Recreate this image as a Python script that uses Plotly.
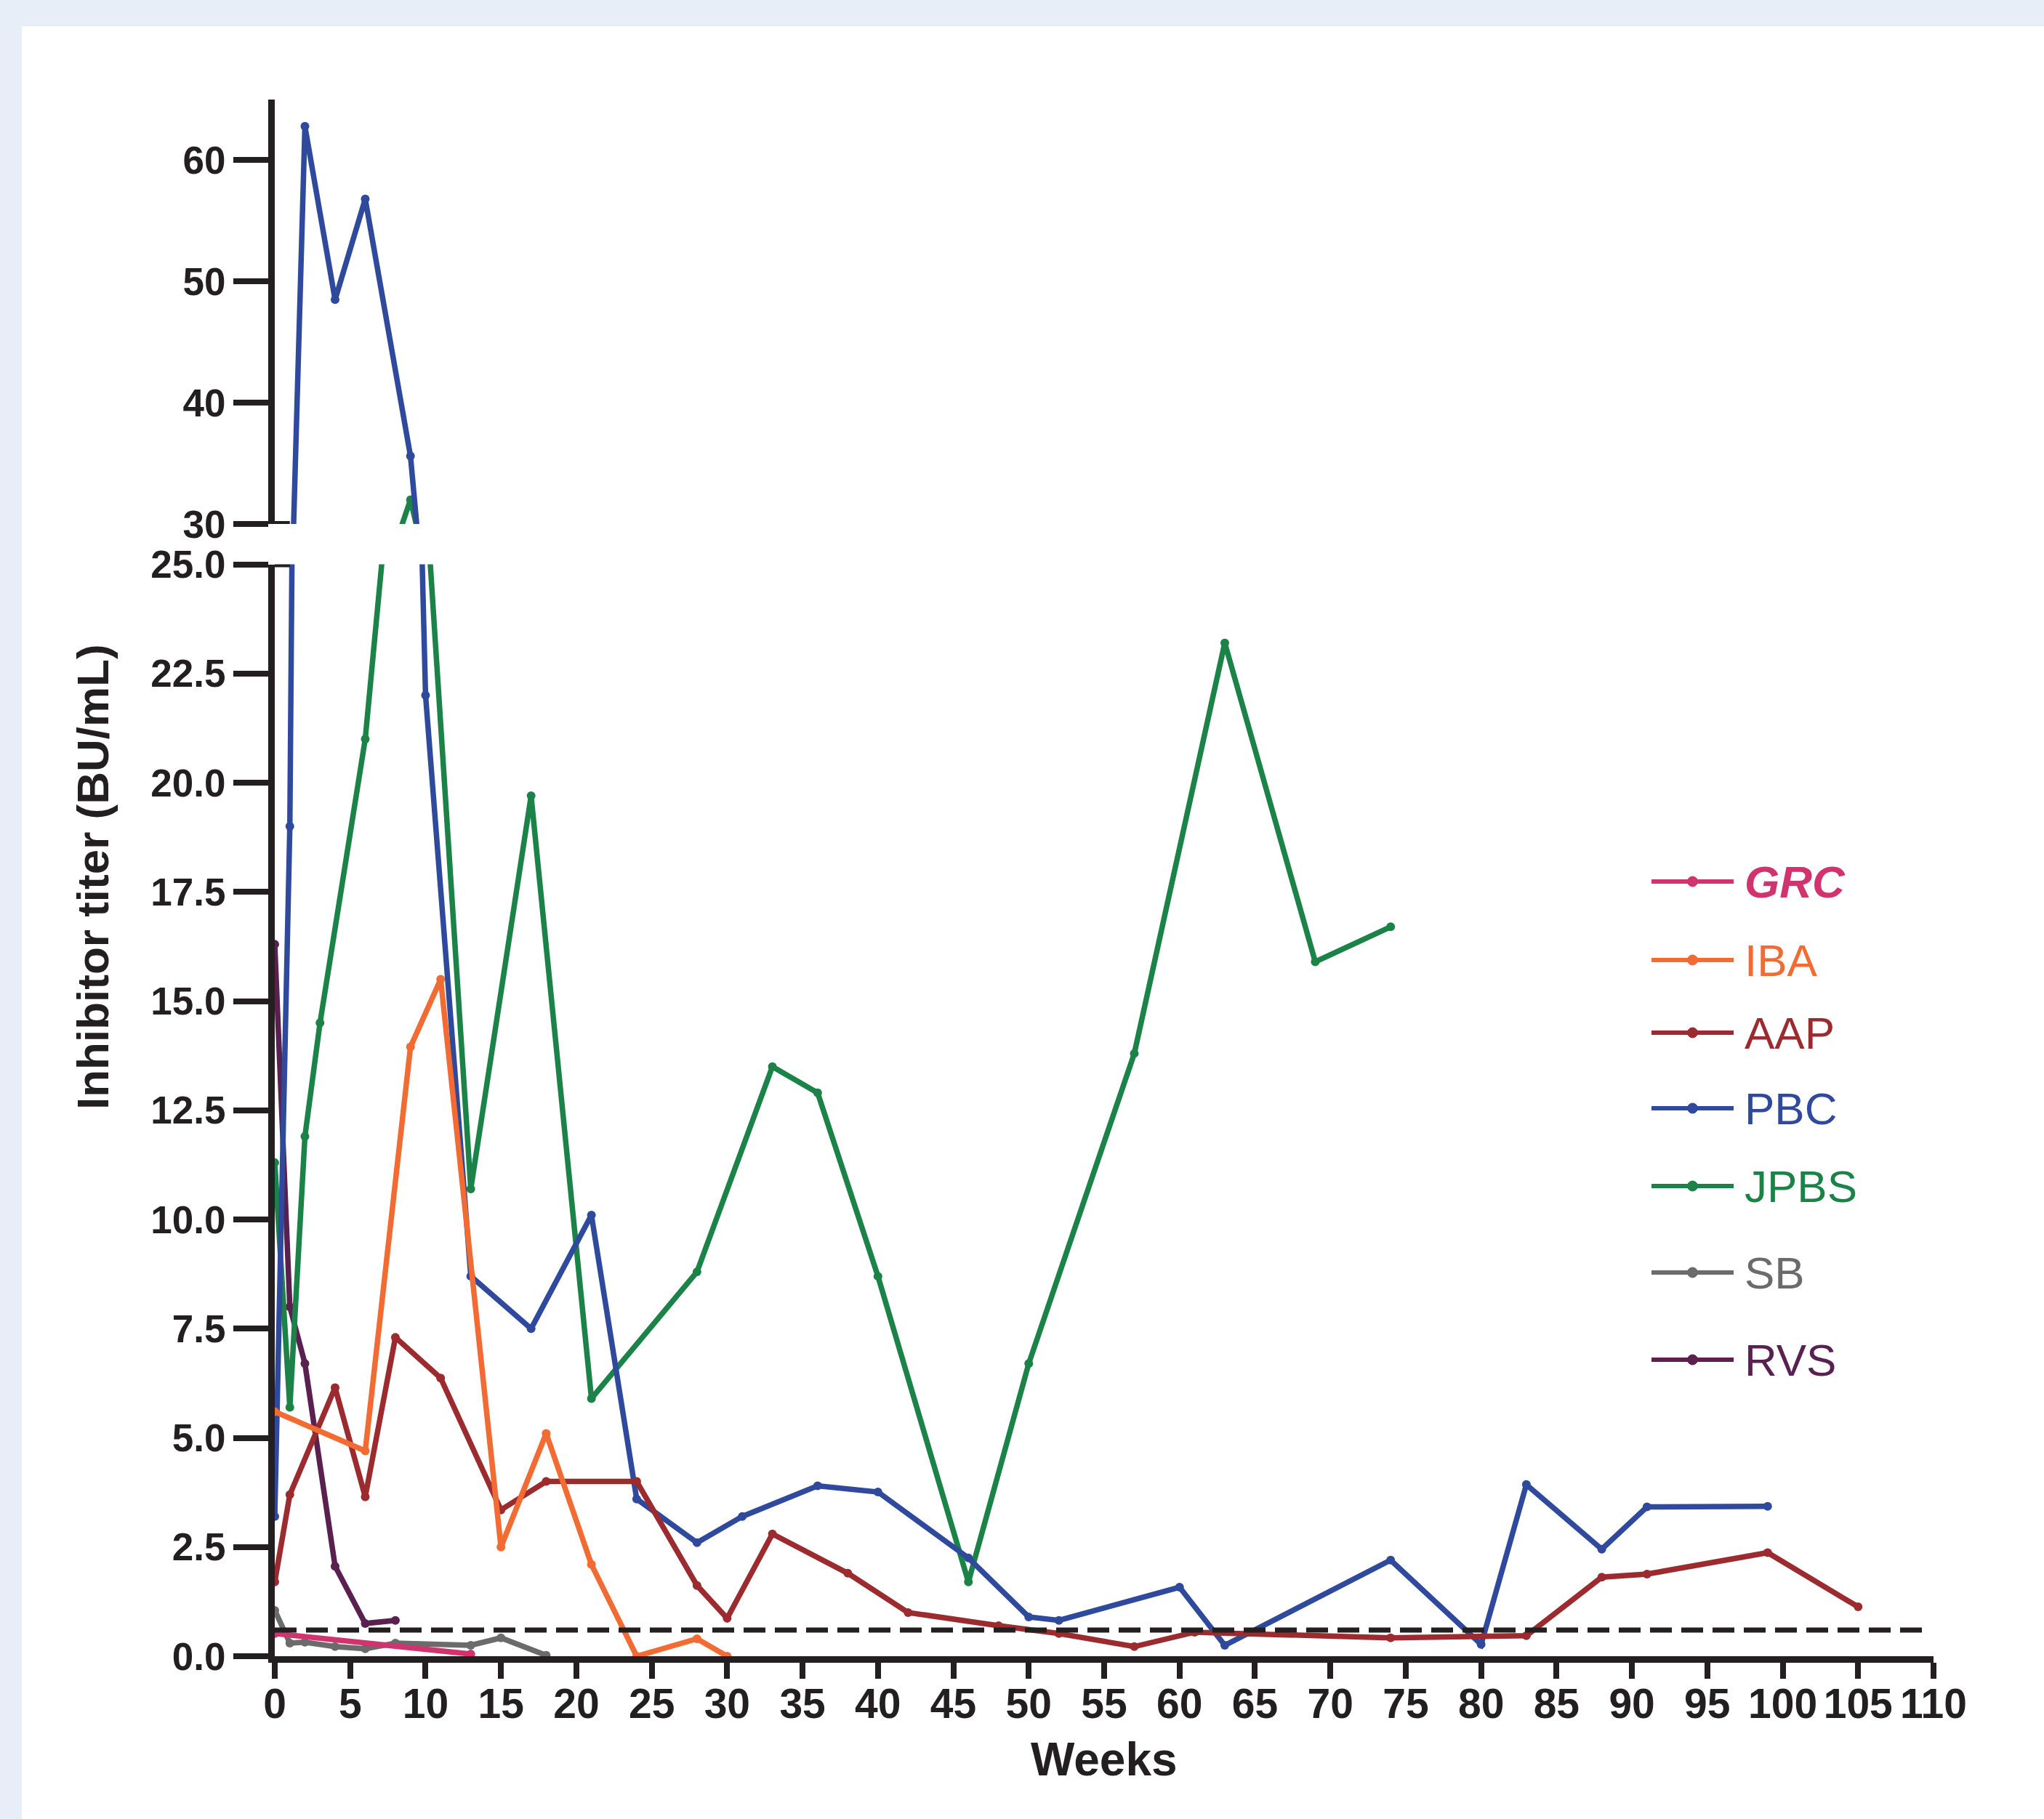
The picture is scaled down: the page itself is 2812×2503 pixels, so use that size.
import plotly.graph_objects as go

# ---------------- data ----------------
grc_weeks = [0, 13]
grc_titer = [0.52, 0.05]

iba_weeks = [0, 6, 9, 11, 15, 18, 21, 24, 28, 30]
iba_titer = [5.6, 4.7, 13.95, 15.5, 2.5, 5.1, 2.1, 0.0, 0.4, 0.0]

aap_weeks = [0, 1, 4, 6, 8, 11, 15, 18, 24, 28, 30, 33, 38, 42, 48, 52, 57, 61, 74, 83, 88, 91, 99, 105]
aap_titer = [1.7, 3.7, 6.15, 3.65, 7.3, 6.37, 3.35, 4.0, 4.0, 1.62, 0.87, 2.8, 1.9, 1.0, 0.7, 0.52, 0.22, 0.55, 0.42, 0.47, 1.81, 1.88, 2.37, 1.13]

pbc_weeks = [0, 1, 2, 4, 6, 9, 10, 13, 17, 21, 24, 28, 31, 36, 40, 46, 50, 52, 60, 63, 74, 80, 83, 88, 91, 99]
pbc_titer = [3.2, 19.0, 62.8, 48.5, 56.8, 35.6, 22.0, 8.7, 7.5, 10.1, 3.6, 2.6, 3.2, 3.9, 3.76, 2.25, 0.9, 0.82, 1.58, 0.25, 2.2, 0.27, 3.93, 2.45, 3.42, 3.43]

jpbs_weeks = [0, 1, 2, 3, 6, 9, 13, 17, 21, 28, 33, 36, 40, 46, 50, 57, 63, 69, 74]
jpbs_titer = [11.3, 5.7, 11.9, 14.5, 21.0, 32.0, 10.7, 19.7, 5.9, 8.8, 13.5, 12.9, 8.7, 1.7, 6.7, 13.8, 23.2, 15.9, 16.7]

sb_weeks = [0, 1, 2, 4, 6, 8, 13, 15, 18]
sb_titer = [1.05, 0.3, 0.32, 0.22, 0.17, 0.3, 0.25, 0.42, 0.02]

rvs_weeks = [0, 1, 2, 4, 6, 8]
rvs_titer = [16.3, 8.0, 6.7, 2.06, 0.75, 0.82]

series_names = ["GRC", "IBA", "AAP", "PBC", "JPBS", "SB", "RVS"]
legend_labels = ["<b><i>GRC</i></b>", "IBA", "AAP", "PBC", "JPBS", "SB", "RVS"]
series_colors = ["#d1336e", "#f26b32", "#9c2b2f", "#2f4a9c", "#1b8248", "#6b6b6b", "#5a2150"]
series_weeks = [grc_weeks, iba_weeks, aap_weeks, pbc_weeks, jpbs_weeks, sb_weeks, rvs_weeks]
series_titer = [grc_titer, iba_titer, aap_titer, pbc_titer, jpbs_titer, sb_titer, rvs_titer]

threshold = 0.6
threshold_end_week = 109.6

x_ticks = list(range(0, 111, 5))
y_low_ticks = [0, 2.5, 5, 7.5, 10, 12.5, 15, 17.5, 20, 22.5, 25]
y_low_labels = ["0.0", "2.5", "5.0", "7.5", "10.0", "12.5", "15.0", "17.5", "20.0", "22.5", "25.0"]
y_high_ticks = [30, 40, 50, 60]

# ---------------- layout helpers ----------------
W, H = 2812, 2503
AX = "#231f20"
FONT = "Liberation Sans, Arial, Helvetica, sans-serif"


def fx(p):
    return p / W


def fy(p):
    return 1 - p / H


x_dom = [fx(378), fx(2660)]
y_low_dom = [fy(2279), fy(776.5)]
y_high_dom = [fy(721), fy(137)]

fig = go.Figure()

# draw in reverse so the first legend series sits on top
for i in reversed(range(len(series_names))):
    for xa, ya in (("x", "y"), ("x2", "y2")):
        fig.add_trace(go.Scatter(
            x=series_weeks[i], y=series_titer[i], name=series_names[i],
            mode="lines+markers",
            line=dict(color=series_colors[i], width=7.5),
            marker=dict(color=series_colors[i], size=12, symbol="circle"),
            xaxis=xa, yaxis=ya, showlegend=False,
        ))

line_common = dict(showline=True, linewidth=9, linecolor=AX, showgrid=False, zeroline=False,
                   ticks="outside", tickwidth=8, tickcolor=AX, automargin=False)
ytick_font = dict(family=FONT, size=53, color=AX, weight="bold")
xtick_font = dict(family=FONT, size=57, color=AX, weight="bold")

fig.update_layout(
    width=W, height=H,
    margin=dict(l=0, r=0, t=0, b=0, pad=0, autoexpand=False),
    paper_bgcolor="#e8eef8",
    plot_bgcolor="rgba(0,0,0,0)",
    showlegend=False,
    xaxis=dict(domain=x_dom, range=[0, 110], anchor="y", tickmode="array",
               tickvals=x_ticks, ticktext=[str(v) for v in x_ticks],
               ticklen=22, ticklabelstandoff=-14, tickfont=xtick_font, **line_common),
    yaxis=dict(domain=y_low_dom, range=[0, 25], anchor="x", tickmode="array",
               tickvals=y_low_ticks, ticktext=y_low_labels, ticklen=48,
               tickfont=ytick_font, **line_common),
    xaxis2=dict(domain=x_dom, range=[0, 110], anchor="y2", matches="x", visible=False,
                automargin=False),
    yaxis2=dict(domain=y_high_dom, range=[30, 65], anchor="x2", tickmode="array",
                tickvals=y_high_ticks, ticktext=[str(v) for v in y_high_ticks],
                ticklen=48, tickfont=ytick_font, **line_common),
)

shapes = []
# white page panel
shapes.append(dict(type="rect", xref="paper", yref="paper", x0=fx(30), x1=1, y0=0, y1=fy(36),
                   fillcolor="white", line=dict(width=0), layer="below"))
# detection-limit dashed line
shapes.append(dict(type="line", xref="x", yref="y", x0=0, x1=threshold_end_week,
                   y0=threshold, y1=threshold,
                   line=dict(color=AX, width=7, dash="30px,13px"), layer="above"))
# axis break cross-bars
shapes.append(dict(type="line", xref="x2", yref="y2", x0=0, x1=1, y0=30, y1=30,
                   line=dict(color=AX, width=8)))
shapes.append(dict(type="line", xref="x", yref="y", x0=0, x1=1, y0=25, y1=25,
                   line=dict(color=AX, width=8)))

annotations = []
# custom legend
legend_rows = [1213, 1321, 1421, 1525, 1632, 1751, 1871]
lx0, lx1, ltext = 2272, 2385, 2398
for i, yc in enumerate(legend_rows):
    shapes.append(dict(type="line", xref="paper", yref="paper", x0=fx(lx0), x1=fx(lx1),
                       y0=fy(yc), y1=fy(yc), line=dict(color=series_colors[i], width=6)))
    mx = (lx0 + lx1) / 2
    shapes.append(dict(type="circle", xref="paper", yref="paper", x0=fx(mx - 7), x1=fx(mx + 7),
                       y0=fy(yc + 7), y1=fy(yc - 7), fillcolor=series_colors[i],
                       line=dict(color=series_colors[i], width=1)))
    annotations.append(dict(xref="paper", yref="paper", x=fx(ltext), y=fy(yc), xanchor="left",
                            yanchor="middle", text=legend_labels[i], showarrow=False,
                            font=dict(family=FONT, size=62, color=series_colors[i])))

# axis titles
annotations.append(dict(xref="paper", yref="paper", x=fx(127), y=fy(1207), text="<b>Inhibitor titer (BU/mL)</b>",
                        textangle=-90, showarrow=False, xanchor="center", yanchor="middle",
                        font=dict(family=FONT, size=62, color=AX)))
annotations.append(dict(xref="paper", yref="paper", x=fx(1519), y=fy(2421), text="<b>Weeks</b>",
                        showarrow=False, xanchor="center", yanchor="middle",
                        font=dict(family=FONT, size=64, color=AX)))

fig.update_layout(shapes=shapes, annotations=annotations)

page_fix = """
document.documentElement.style.margin='0';
document.body.style.margin='0';
document.documentElement.style.overflow='hidden';
document.body.style.overflow='hidden';
"""

fig.write_html("out.html", config={"displayModeBar": False}, post_script=page_fix)
